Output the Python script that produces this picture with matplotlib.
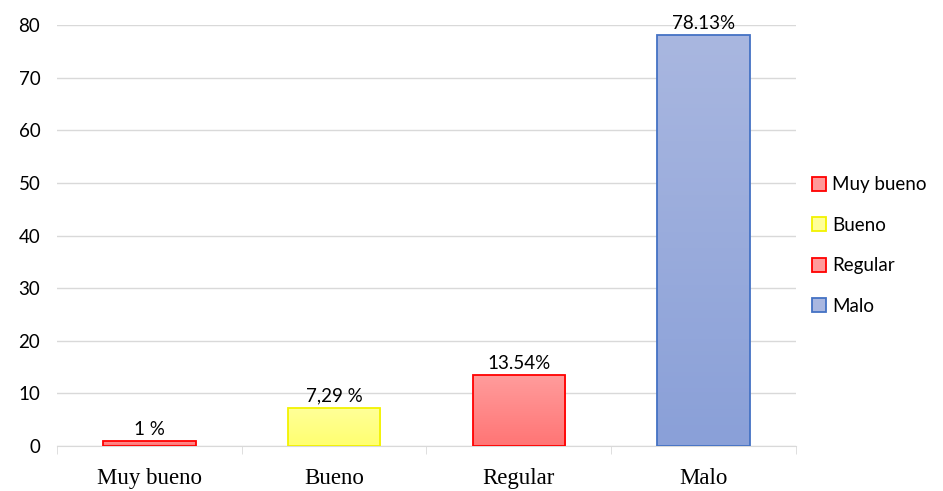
import numpy as np
import matplotlib.pyplot as plt
from matplotlib.patches import Patch
from matplotlib.colors import LinearSegmentedColormap

categorias = ['Muy bueno', 'Bueno', 'Regular', 'Malo']
valores = [1, 7.29, 13.54, 78.13]
etiquetas = ['1 %', '7,29 %', '13.54%', '78.13%']
color_top = ['#ff9a9a', '#ffff99', '#ff9c9c', '#a9b7e0']
color_bot = ['#ff7070', '#ffff70', '#ff7575', '#8aa0d8']
bordes = ['#ff0000', '#f2f200', '#ff0000', '#4472c4']

fig = plt.figure(figsize=(9.43, 4.91), dpi=100)
ax = fig.add_axes([0.0604, 0.0916, 0.7836, 0.8574])

x = np.arange(len(categorias))
barras = ax.bar(x, valores, width=0.5, color='none', edgecolor=bordes, linewidth=1.3, zorder=3)

# relleno degradado de cada barra
for b, c1, c2 in zip(barras, color_top, color_bot):
    grad = np.linspace(0, 1, 100).reshape(-1, 1)
    cmap = LinearSegmentedColormap.from_list('g', [c2, c1])
    x0, y0 = b.get_x(), b.get_y()
    im = ax.imshow(grad, cmap=cmap, extent=[x0, x0 + b.get_width(), y0, y0 + b.get_height()],
                   origin='lower', aspect='auto', zorder=2)
    im.set_clip_path(b)

for xi, v, t in zip(x, valores, etiquetas):
    ax.text(xi, v + 0.6, t, ha='center', va='bottom', fontsize=13.5, family='Lato')

ax.set_xlim(-0.5, 3.5)
ax.set_ylim(0, 80)
ax.set_yticks(range(0, 81, 10))
ax.yaxis.grid(True, color='#d9d9d9', linewidth=1, zorder=0)
ax.set_axisbelow(True)
for s in ['top', 'right', 'left']:
    ax.spines[s].set_visible(False)
ax.spines['bottom'].set_color('#d9d9d9')
ax.tick_params(axis='y', length=0, labelsize=13.5, pad=12)
for lbl in ax.get_yticklabels():
    lbl.set_family('Lato')

ax.set_xticks(x)
ax.set_xticklabels(categorias, family='Liberation Serif', fontsize=16.5)
ax.tick_params(axis='x', length=0, pad=16)
ax.set_xticks(np.arange(-0.5, 4, 1), minor=True)
ax.tick_params(axis='x', which='minor', length=6, color='#d9d9d9', direction='out')

handles = [Patch(facecolor=c, edgecolor=e, linewidth=1.3) for c, e in zip(color_top, bordes)]
fig.legend(handles, categorias, loc='center left', bbox_to_anchor=(0.843, 0.5), frameon=False,
           prop={'family': 'Lato', 'size': 13.5}, handlelength=0.75, handleheight=0.75,
           handletextpad=0.35, labelspacing=1.25)

fig.savefig('out.png', dpi=100)
